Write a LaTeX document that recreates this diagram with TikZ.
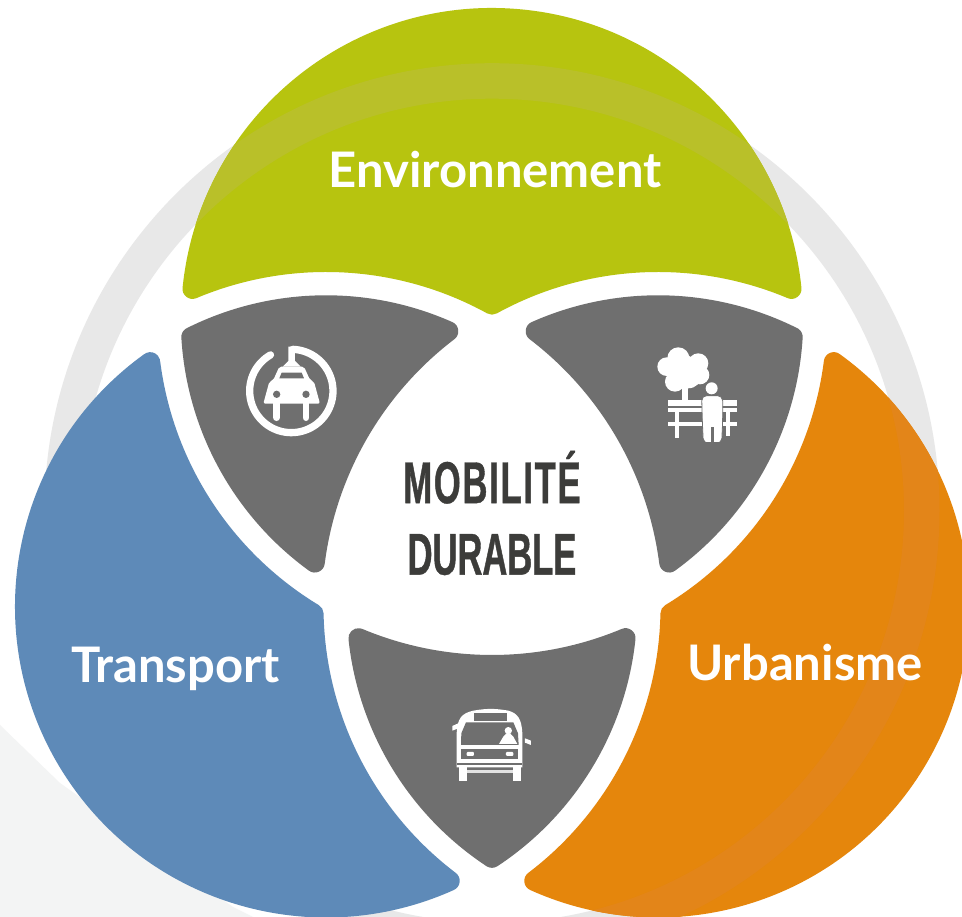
\documentclass[tikz,border=0pt]{standalone}
\usepackage{fontspec}
\setmainfont{Lato}
\newfontfamily\dina[FakeStretch=0.585,FakeBold=0.7,LetterSpace=3]{Liberation Sans}
\newfontfamily\dinb[FakeStretch=0.585,FakeBold=0.7]{Liberation Sans}
\definecolor{lobegreen}{HTML}{B7C40F}
\definecolor{lobeblue}{HTML}{5E8AB8}
\definecolor{lobeorange}{HTML}{E5860C}
\definecolor{petal}{HTML}{6F6F6F}
\definecolor{ringgrey}{HTML}{E8E8E8}
\definecolor{cornergrey}{HTML}{F3F4F4}
\definecolor{bandgreen}{HTML}{B9C029}
\definecolor{bandorange}{HTML}{E38519}
\definecolor{titlegrey}{HTML}{3C3C3A}
\tikzset{
  shapefill/.style={fill=#1,draw=#1,line width=20pt,line join=round},
  lobelabel/.style={text=white,font=\bfseries\fontsize{49}{52}\selectfont,inner sep=0pt,anchor=base},
  iconline/.style={draw=white,line cap=round},
}
\makeatletter
\newcommand\setc[4]{%
  \expandafter\xdef\csname cx#1\endcsname{#2}%
  \expandafter\xdef\csname cy#1\endcsname{#3}%
  \expandafter\xdef\csname cr#1\endcsname{#4}}
\newcommand\vtx[5]{%
  \pgfmathsetmacro\qxa{\csname cx#2\endcsname/100}%
  \pgfmathsetmacro\qya{\csname cy#2\endcsname/100}%
  \pgfmathsetmacro\qra{\csname cr#2\endcsname/100}%
  \pgfmathsetmacro\qxb{\csname cx#3\endcsname/100}%
  \pgfmathsetmacro\qyb{\csname cy#3\endcsname/100}%
  \pgfmathsetmacro\qrb{\csname cr#3\endcsname/100}%
  \pgfmathsetmacro\qdx{\qxb-\qxa}%
  \pgfmathsetmacro\qdy{\qyb-\qya}%
  \pgfmathsetmacro\qd{sqrt(\qdx*\qdx+\qdy*\qdy)}%
  \pgfmathsetmacro\qm{(\qra*\qra-\qrb*\qrb+\qd*\qd)/(2*\qd)}%
  \pgfmathsetmacro\qh{sqrt(\qra*\qra-\qm*\qm)}%
  \pgfmathsetmacro\qmx{\qxa+\qm*\qdx/\qd}%
  \pgfmathsetmacro\qmy{\qya+\qm*\qdy/\qd}%
  \pgfmathsetmacro\qpax{\qmx-\qh*\qdy/\qd}%
  \pgfmathsetmacro\qpay{\qmy+\qh*\qdx/\qd}%
  \pgfmathsetmacro\qpbx{\qmx+\qh*\qdy/\qd}%
  \pgfmathsetmacro\qpby{\qmy-\qh*\qdx/\qd}%
  \pgfmathsetmacro\qda{(\qpax-#4/100)^2+(\qpay-#5/100)^2}%
  \pgfmathsetmacro\qdb{(\qpbx-#4/100)^2+(\qpby-#5/100)^2}%
  \pgfmathparse{100*(\qda<\qdb?\qpax:\qpbx)}%
  \expandafter\xdef\csname vx#1\endcsname{\pgfmathresult}%
  \pgfmathparse{100*(\qda<\qdb?\qpay:\qpby)}%
  \expandafter\xdef\csname vy#1\endcsname{\pgfmathresult}}
\newcommand\mkarc[4]{%
  \pgfmathsetmacro\qs{atan2((\csname vy#3\endcsname-\csname cy#2\endcsname)/100,(\csname vx#3\endcsname-\csname cx#2\endcsname)/100)}%
  \pgfmathsetmacro\qe{atan2((\csname vy#4\endcsname-\csname cy#2\endcsname)/100,(\csname vx#4\endcsname-\csname cx#2\endcsname)/100)}%
  \pgfmathsetmacro\qdl{\qe-\qs}%
  \pgfmathsetmacro\qdl{\qdl>180?\qdl-360:(\qdl<-180?\qdl+360:\qdl)}%
  \expandafter\xdef\csname as#1\endcsname{\qs}%
  \expandafter\xdef\csname ad#1\endcsname{\qdl}%
  \expandafter\xdef\csname ar#1\endcsname{\csname cr#2\endcsname}}
\newcommand\tri[7]{%
  \mkarc{A}{#3}{#2}{#4}\mkarc{B}{#5}{#4}{#6}\mkarc{C}{#7}{#6}{#2}%
  \path[shapefill=#1] (\csname vx#2\endcsname,\csname vy#2\endcsname)
    arc[start angle=\asA,delta angle=\adA,radius=\arA pt]
    arc[start angle=\asB,delta angle=\adB,radius=\arB pt]
    arc[start angle=\asC,delta angle=\adC,radius=\arC pt] -- cycle;}
\makeatother
\setc{Gout}{492}{598}{301}\setc{Bout}{326}{310.5}{301}\setc{Oout}{658}{310.5}{301}
\setc{Gbig}{492}{598}{344.5}\setc{Bbig}{326}{310.5}{344.5}\setc{Obig}{658}{310.5}{344.5}
\setc{Gin}{492}{598}{301.2}\setc{Bin}{326}{310.5}{301.2}\setc{Oin}{658}{310.5}{301.2}
\setc{Gcut}{492}{598}{346}\setc{Bcut}{326}{310.5}{346}\setc{Ocut}{658}{310.5}{346}
\begin{document}
\begin{tikzpicture}[x=1pt,y=1pt]
\useasboundingbox (0,0) rectangle (962,917);
\clip (0,0) rectangle (962,917);
\fill[white] (0,0) rectangle (962,917);
% faint corner and ring
\fill[cornergrey] (0,192) -- (60,134) -- (233,10) -- (253,0) -- (0,0) -- cycle;
\fill[ringgrey,even odd rule] (492,406.3) circle[radius=447.5pt] circle[radius=412pt];
% lobes
\vtx{BT}{Bout}{Gbig}{150}{560}\vtx{BR}{Bout}{Obig}{455}{40}\vtx{BC}{Obig}{Gbig}{323}{310}
\tri{lobeblue}{BT}{Bout}{BR}{Obig}{BC}{Gbig}
\vtx{GL}{Gout}{Bbig}{195}{622}\vtx{GR}{Gout}{Obig}{790}{622}\vtx{GT}{Obig}{Bbig}{492}{604}
\tri{lobegreen}{GL}{Gout}{GR}{Obig}{GT}{Bbig}
\vtx{OT}{Oout}{Gbig}{834}{560}\vtx{OB}{Oout}{Bbig}{528}{40}\vtx{OC}{Bbig}{Gbig}{661}{310}
\tri{lobeorange}{OT}{Oout}{OB}{Bbig}{OC}{Gbig}
\begin{scope}
  \clip (492,598) circle[radius=311pt];
  \fill[bandgreen,even odd rule] (492,406.3) circle[radius=447.5pt] circle[radius=412pt];
\end{scope}
\begin{scope}
  \clip (658,310.5) circle[radius=311pt];
  \fill[bandorange,even odd rule] (492,406.3) circle[radius=447.5pt] circle[radius=412pt];
\end{scope}
% grey petals
\vtx{A1}{Gin}{Bin}{185}{585}\vtx{A2}{Bin}{Ocut}{457}{595}\vtx{A3}{Ocut}{Gin}{325}{350}
\tri{petal}{A1}{Bin}{A2}{Ocut}{A3}{Gin}
\vtx{B1}{Gin}{Oin}{799}{585}\vtx{B2}{Oin}{Bcut}{527}{595}\vtx{B3}{Bcut}{Gin}{659}{350}
\tri{petal}{B1}{Oin}{B2}{Bcut}{B3}{Gin}
\vtx{D1}{Gcut}{Oin}{350}{285}\vtx{D2}{Gcut}{Bin}{632}{285}\vtx{D3}{Oin}{Bin}{492}{60}
\tri{petal}{D1}{Gcut}{D2}{Bin}{D3}{Oin}
% labels
\node[lobelabel] (env) at (495,729.5) {Environnement};
\node[lobelabel] (tra) at (175.5,234) {Transport};
\node[lobelabel] (urb) at (805,236) {Urbanisme};
\node[align=center,text=titlegrey,inner sep=0pt,font=\bfseries\fontsize{59}{71.5}\selectfont] (title) at (492,404) {{\dina\bfseries MOBILITÉ}\\{\dinb\bfseries DURABLE}};
% car icon (units: zoom pixels)
\begin{scope}[shift={(230,582)},x=0.3333pt,y=-0.3333pt]
  \draw[iconline,line width=7.3pt] plot[domain=88:-240,samples=80] ({184+125*cos(\x)},{168-125*sin(\x)});
  \fill[white] (175,35) -- (195,35) -- (195,78) -- (212,95) -- (158,95) -- (175,78) -- cycle;
  \fill[white,rounded corners=2pt] (148,95) -- (222,95) -- (240,135) -- (252,140) -- (270,206) -- (100,206) -- (118,140) -- (130,135) -- cycle;
  \draw[iconline,line width=6.8pt] (140,205) -- (140,248);
  \draw[iconline,line width=6.8pt] (228,205) -- (228,248);
  \fill[petal] (155,113) -- (215,113) -- (222,130) -- (148,130) -- cycle;
  \fill[petal] (140,178) circle[radius=11];
  \fill[petal] (228,178) circle[radius=11];
\end{scope}
% bench icon
\begin{scope}[shift={(620,587)},x=0.3333pt,y=-0.3333pt]
  \fill[white] (175,85) circle[radius=33];
  \fill[white] (140,110) circle[radius=28];
  \fill[white] (235,100) circle[radius=30];
  \fill[white] (240,135) circle[radius=28];
  \fill[white] (165,155) circle[radius=30];
  \fill[white] (205,135) circle[radius=40];
  \fill[white] (185,110) circle[radius=40];
  \fill[white] (185,165) rectangle (205,210);
  \fill[white] (143,210) rectangle (350,228);
  \fill[white] (143,233) rectangle (350,246);
  \fill[white] (143,275) rectangle (350,287);
  \fill[white] (165,246) rectangle (177,325);
  \fill[white] (318,246) rectangle (330,318);
  \fill[white,draw=petal,line width=0.8pt,rounded corners=5pt] (245,197) -- (308,197) -- (308,275) -- (305,340) -- (250,340) -- (247,275) -- cycle;
  \fill[white] (275,175) circle[radius=18];
  \draw[iconline,line width=6.8pt] (262,270) -- (262,323);
  \draw[iconline,line width=6.8pt] (293,270) -- (293,323);
  \fill[petal] (252,336) rectangle (310,345);
  \fill[petal] (272.5,290) rectangle (282.5,340);
\end{scope}
% bus icon
\begin{scope}[shift={(430,227)},x=0.3333pt,y=-0.3333pt]
  \fill[white] (80,232) -- (80,130) .. controls (82,85) and (95,70) .. (130,62) .. controls (170,55) and (195,55) .. (235,62) .. controls (262,70) and (275,85) .. (277,130) -- (277,232) -- cycle;
  \fill[petal] (133,70) rectangle (232,92);
  \fill[petal] (108,97) -- (250,97) -- (264,130) -- (266,165) -- (93,165) -- (94,130) -- cycle;
  \fill[white] (235,122) circle[radius=11];
  \fill[white] (207,162) -- (262,162) -- (250,140) -- (240,130) -- (230,130) -- (220,140) -- cycle;
  \fill[petal] (93,178) rectangle (265,208);
  \fill[white,rounded corners=1pt] (110,186) rectangle (132,198);
  \fill[white,rounded corners=1pt] (228,186) rectangle (250,198);
  \fill[petal] (80,220) rectangle (277,225);
  \fill[white] (88,232) rectangle (110,272);
  \fill[white] (250,232) rectangle (272,272);
  \fill[white!80!petal] (110,240) rectangle (250,248);
  \fill[white] (67,108) -- (85,100) -- (85,115) -- (67,122) -- cycle;
  \fill[white] (285,145) -- (303,152) -- (303,165) -- (285,158) -- cycle;
\end{scope}
\end{tikzpicture}
\end{document}
